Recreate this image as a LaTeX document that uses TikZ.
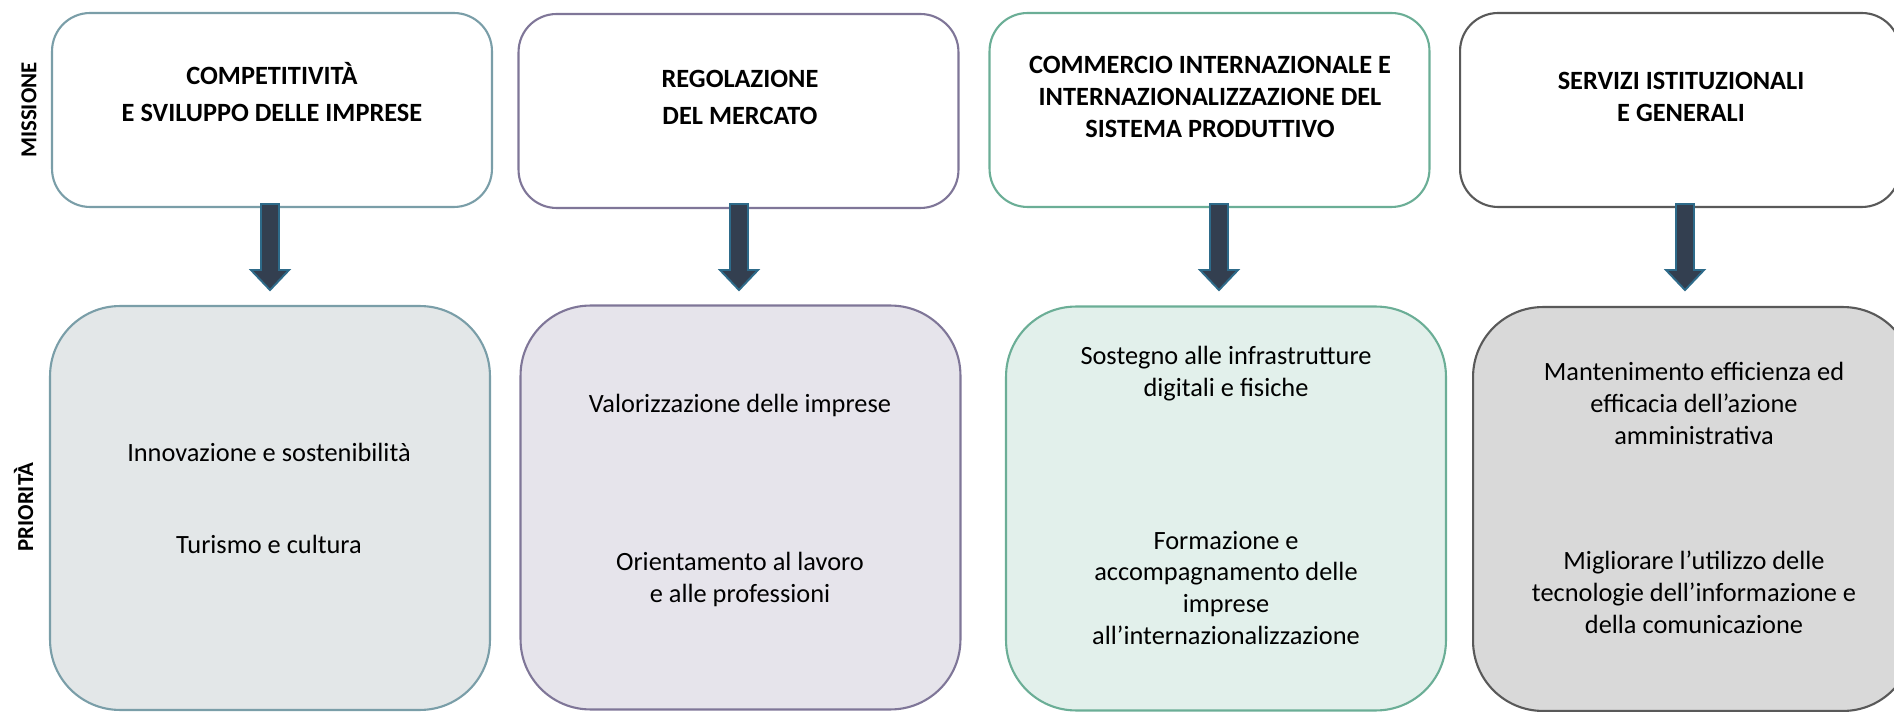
\documentclass[tikz,border=0pt]{standalone}
\usepackage{fontspec}
\setmainfont{Carlito}
\usetikzlibrary{calc,positioning}

\newcommand{\px}{0.02cm}
\definecolor{linea1}{HTML}{7A9EA8}
\definecolor{fondo1}{HTML}{E3E7E8}
\definecolor{linea2}{HTML}{7F7698}
\definecolor{fondo2}{HTML}{E6E4EB}
\definecolor{linea3}{HTML}{6BAE96}
\definecolor{fondo3}{HTML}{E2F0EB}
\definecolor{linea4}{HTML}{595959}
\definecolor{fondo4}{HTML}{D9D9D9}
\definecolor{frecciafondo}{HTML}{333F50}
\definecolor{freccialinea}{HTML}{2E6B8A}

\tikzset{
  missbox/.style={draw=#1, fill=white, line width=1.2pt, rounded corners=0.76cm,
    minimum width=8.8cm, minimum height=3.88cm},
  priobox/.style={draw=linea#1, fill=fondo#1, line width=1.2pt, rounded corners=1.4cm,
    minimum width=8.8cm, minimum height=8.08cm},
  titolo/.style={font=\bfseries\fontsize{15}{21}\selectfont, align=center, inner sep=0pt},
  voce/.style={font=\fontsize{15}{18.2}\selectfont, align=center, inner sep=0pt},
  lato/.style={font=\bfseries\fontsize{13}{15}\selectfont, rotate=90, inner sep=0pt},
  downarrow/.pic={\draw[draw=freccialinea, fill=frecciafondo, line width=1.1pt, line join=miter]
    (-9,0) -- (9,0) -- (9,66) -- (19,66) -- (0,86) -- (-19,66) -- (-9,66) -- cycle;}
}

\begin{document}
\begin{tikzpicture}[x=\px,y=-\px]
  \useasboundingbox (0,0) rectangle (1894,712);
  \clip (0,0) rectangle (1894,712);

  % missioni
  \node[missbox=linea1] (m1) at (272,110) {};
  \node[missbox=linea2] (m2) at (738.5,111) {};
  \node[missbox=linea3] (m3) at (1209.5,110) {};
  \node[missbox=linea4] (m4) at (1680,110) {};

  \node[titolo] (t1) at (272,92) {COMPETITIVITÀ\\E SVILUPPO DELLE IMPRESE};
  \node[titolo] (t2) at (740,97.5) {REGOLAZIONE\\DEL MERCATO};
  \node[titolo, font=\bfseries\fontsize{15}{18.4}\selectfont] (t3) at (1210,97)
    {COMMERCIO INTERNAZIONALE E\\INTERNAZIONALIZZAZIONE DEL\\SISTEMA PRODUTTIVO};
  \node[titolo, font=\bfseries\fontsize{15}{18.4}\selectfont] (t4) at (1681,97)
    {SERVIZI ISTITUZIONALI\\E GENERALI};

  % priorita
  \node[priobox=1] (p1) at (270,508) {};
  \node[priobox=2] (p2) at (740.5,507.5) {};
  \node[priobox=3] (p3) at (1226,508.5) {};
  \node[priobox=4] (p4) at (1693,509) {};

  \node[voce] (p1a) at (269,452.5) {Innovazione e sostenibilità};
  \node[voce] (p1b) at (269,544) {Turismo e cultura};
  \node[voce] (p2a) at (740,405) {Valorizzazione delle imprese};
  \node[voce] (p2b) at (740,579) {Orientamento al lavoro\\e alle professioni};
  \node[voce] (p3a) at (1226,374) {Sostegno alle infrastrutture\\digitali e fisiche};
  \node[voce] (p3b) at (1226,588) {Formazione e\\accompagnamento delle\\imprese\\all’internazionalizzazione};
  \node[voce] (p4a) at (1694,403) {Mantenimento efficienza ed\\efficacia dell’azione\\amministrativa};
  \node[voce] (p4b) at (1694,592) {Migliorare l’utilizzo delle\\tecnologie dell’informazione e\\della comunicazione};

  % frecce
  \pic at ($(m1.south)+(-2,-4)$) {downarrow};
  \pic at ($(m2.south)+(0.5,-5)$) {downarrow};
  \pic at ($(m3.south)+(9.5,-4)$) {downarrow};
  \pic at ($(m4.south)+(5,-4)$) {downarrow};

  \node[lato] (missione) at (29,110) {MISSIONE};
  \node[lato] (priorita) at (23.5,507) {PRIORITÀ};
\end{tikzpicture}
\end{document}
